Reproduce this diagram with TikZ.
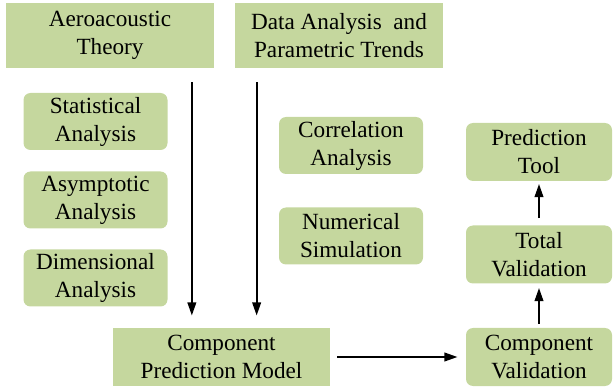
\documentclass[tikz,border=0pt]{standalone}
\usepackage{fontspec}
\setmainfont{DejaVu Serif}
\newfontfamily\timesfont{Liberation Serif}
\usetikzlibrary{arrows.meta,calc}
\definecolor{boxgreen}{RGB}{197,215,158}
\tikzset{
  box/.style={fill=boxgreen, align=center, inner sep=0pt, font=\timesfont\fontsize{13.2}{15.9}\selectfont},
  topbox/.style={box, minimum width=4.16cm, minimum height=1.3cm},
  methodbox/.style={box, rounded corners=0.14cm, minimum width=2.88cm, minimum height=1.14cm},
  arr/.style={-{Triangle[length=7.5pt,width=4.8pt]}, line width=1.3pt}
}
\begin{document}
\begin{tikzpicture}
\useasboundingbox (0,0) rectangle (12.26,7.76);
% top row
\node[topbox] (aero) at (2.2,7.05) {Aeroacoustic\\Theory};
\node[topbox] (data) at (6.78,7.05) {Data Analysis~ and\\Parametric Trends};
% left column
\node[methodbox] (stat) at (1.91,5.33) {Statistical\\Analysis};
\node[methodbox] (asym) at (1.91,3.76) {Asymptotic\\Analysis};
\node[methodbox] (dim) at (1.91,2.20) {Dimensional\\Analysis};
% middle column
\node[methodbox] (corr) at (7.02,4.85) {Correlation\\Analysis};
\node[methodbox] (num) at (7.02,3.04) {Numerical\\Simulation};
% bottom and right
\node[topbox, minimum width=4.34cm, minimum height=1.16cm] (cpm) at (4.43,0.62) {Component\\Prediction Model};
\node[methodbox, minimum width=2.92cm, minimum height=1.16cm] (cval) at (10.78,0.62) {Component\\Validation};
\node[methodbox, minimum width=2.92cm, minimum height=1.16cm] (tval) at (10.78,2.67) {Total\\Validation};
\node[methodbox, minimum width=2.92cm, minimum height=1.16cm] (ptool) at (10.78,4.72) {Prediction\\Tool};
% arrows
\path
([xshift=-0.45cm,yshift=-0.28cm]aero.south east) coordinate (a1)
([xshift=0.44cm,yshift=-0.28cm]data.south west) coordinate (a2)
($(a1 |- cpm.north)+(0,0.24)$) coordinate (b1)
($(a2 |- cpm.north)+(0,0.24)$) coordinate (b2)
;
\draw[arr] (a1) -- (b1);
\draw[arr] (a2) -- (b2);
\draw[arr, shorten <=0.14cm, shorten >=0.16cm] (cpm) -- (cval);
\draw[arr, shorten <=0.08cm, shorten >=0.08cm] (cval) -- (tval);
\draw[arr, shorten <=0.14cm, shorten >=0.05cm] (tval) -- (ptool);
\end{tikzpicture}
\end{document}
